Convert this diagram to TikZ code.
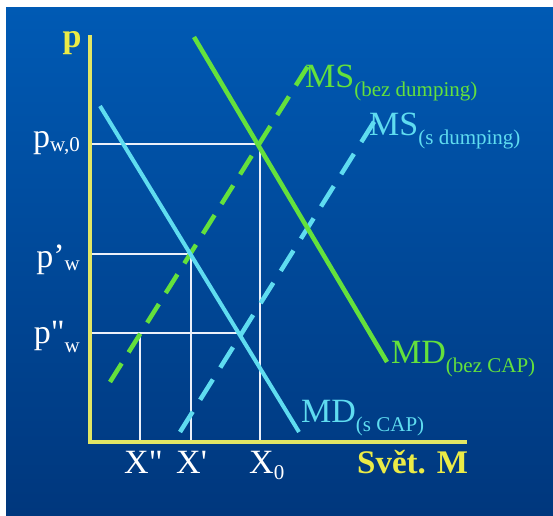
\documentclass[tikz,border=0pt]{standalone}
\usepackage{fontspec}
\setmainfont{Liberation Serif}
\definecolor{bgtop}{RGB}{0,90,180}
\definecolor{bgbot}{RGB}{0,55,125}
\definecolor{lgreen}{RGB}{100,225,60}
\definecolor{lcyan}{RGB}{95,220,240}
\definecolor{axisc}{RGB}{225,230,100}
\definecolor{ytext}{RGB}{235,235,70}
\definecolor{guide}{RGB}{235,240,250}
\newcommand{\lsub}[2][-8pt]{\raisebox{#1}{\fontsize{21}{21}\selectfont #2}}
\tikzset{
  lbl/.style={inner sep=0pt, font=\fontsize{34}{34}\selectfont},
  axisline/.style={draw=axisc, line width=4pt},
  guideline/.style={draw=guide, line width=1.4pt},
  greensolid/.style={draw=lgreen, line width=4.5pt},
  cyansolid/.style={draw=lcyan, line width=4pt},
  greendash/.style={draw=lgreen, line width=4.5pt, dash pattern=on 22pt off 13pt},
  cyandash/.style={draw=lcyan, line width=4.5pt, dash pattern=on 24pt off 14pt}
}
\begin{document}
\begin{tikzpicture}[x=1pt,y=-1pt]
\useasboundingbox (0,0) rectangle (553,515);
\fill[white] (0,0) rectangle (553,515);
\shade[top color=bgtop, bottom color=bgbot] (6,7) rectangle (553,515);

% key points
\coordinate (O) at (90,442);
\coordinate (Ytop) at (90,35);
\coordinate (Xend) at (467,442);
\coordinate (E0) at (260,144);
\coordinate (E1) at (191,254);
\coordinate (E2) at (140,333);
\coordinate (E3) at (240,333);
\coordinate (A0) at (90,144);
\coordinate (A1) at (90,254);
\coordinate (A2) at (90,333);
\coordinate (B0) at (260,442);
\coordinate (B1) at (191,442);
\coordinate (B2) at (140,442);
% curve ends
\coordinate (MDbT) at (194,37);
\coordinate (MDbB) at (387,362);
\coordinate (MDsT) at (100,106);
\coordinate (MDsB) at (299,432);
\coordinate (MSbB) at (110,382);
\coordinate (MSbT) at (308,66);
\coordinate (MSsB) at (180,432);
\coordinate (MSsT) at (377,117);

% guide lines
\draw[guideline] (A0) -- (E0) -- (B0);
\draw[guideline] (A1) -- (E1) -- (B1);
\draw[guideline] (A2) -- (E3);
\draw[guideline] (E2) -- (B2);

% curves
\draw[greendash] (MSbB) -- (MSbT);
\draw[cyandash] (MSsB) -- (MSsT);
\draw[greensolid] (MDbT) -- (MDbB);
\draw[cyansolid] (MDsT) -- (MDsB);

% axes
\draw[axisline] (Ytop) -- (O) -- (Xend);

% labels
\node[lbl, text=ytext, font=\bfseries\fontsize{34}{34}\selectfont, anchor=base] (plab) at (72,47) {p};
\node[lbl, text=ytext, font=\bfseries\fontsize{33}{33}\selectfont, anchor=base west] (svet) at (357,473) {Svět. M};

\node[lbl, text=white, anchor=base east] (pw0) at (80,147) {p\lsub[-4pt]{w,0}};
\node[lbl, text=white, anchor=base east] (pw1) at (80,267) {p’\lsub[-3pt]{w}};
\node[lbl, text=white, anchor=base east] (pw2) at (80,343) {p\textquotedbl\lsub[-9pt]{w}};

\node[lbl, text=white, anchor=base west] (x2) at (124,473) {X\textquotedbl};
\node[lbl, text=white, anchor=base west] (x1) at (176,473) {X\textquotesingle};
\node[lbl, text=white, anchor=base west] (x0) at (249,473) {X\lsub[-6pt]{0}};

\node[lbl, text=lgreen, anchor=base west] (msb) at (305,87) {MS\lsub[-9pt]{(bez dumping)}};
\node[lbl, text=lcyan, anchor=base west] (mss) at (369,135) {MS\lsub[-9pt]{(s dumping)}};
\node[lbl, text=lgreen, anchor=base west] (mdb) at (391,363) {MD\lsub[-9pt]{(bez CAP)}};
\node[lbl, text=lcyan, anchor=base west] (mds) at (301,422) {MD\lsub[-9pt]{(s CAP)}};
\end{tikzpicture}
\end{document}
